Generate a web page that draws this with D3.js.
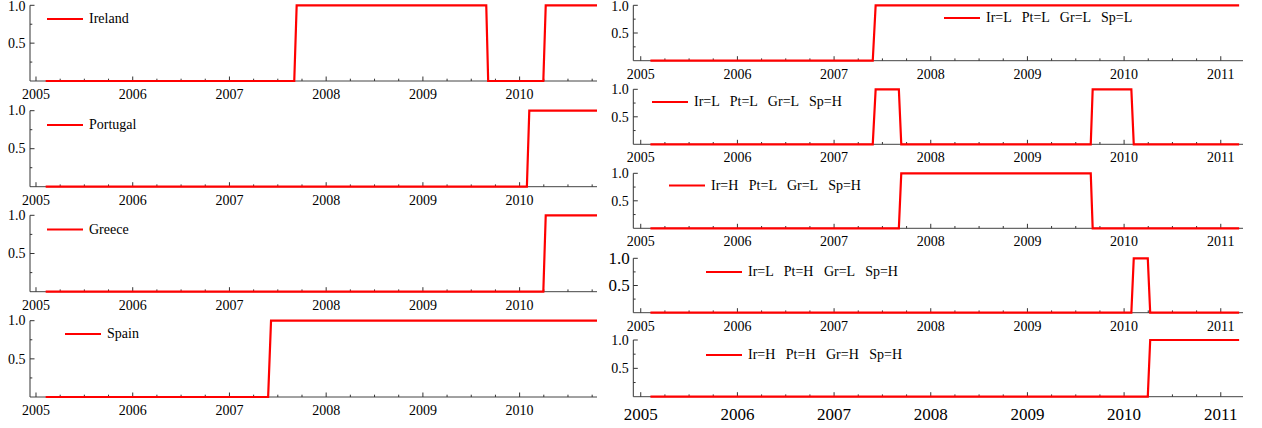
<!DOCTYPE html>
<html>
<head>
<meta charset="utf-8">
<script src="https://cdn.jsdelivr.net/npm/d3@7"></script>
<style>
  body { margin: 0; background: #fff; }
  svg { display: block; }
  .legend text { white-space: pre; }
</style>
</head>
<body>
<div id="app"></div>
<script>
// breakpoints (decimal years) shared by all regime series
const dates = [2005.1, 2007.40, 2007.43, 2007.67, 2007.695, 2009.655, 2009.675, 2010.075, 2010.10, 2010.245, 2010.27, 2011.19];

// left column: single-country indicators
const ireland  = [0, 0, 0, 0, 1, 1, 0, 0, 0, 0, 1, 1];
const portugal = [0, 0, 0, 0, 0, 0, 0, 0, 1, 1, 1, 1];
const greece   = [0, 0, 0, 0, 0, 0, 0, 0, 0, 0, 1, 1];
const spain    = [0, 0, 1, 1, 1, 1, 1, 1, 1, 1, 1, 1];

// right column: joint regimes
const rLLLL = [0, 0, 1, 1, 1, 1, 1, 1, 1, 1, 1, 1];
const rLLLH = [0, 0, 1, 1, 0, 0, 1, 1, 0, 0, 0, 0];
const rHLLH = [0, 0, 0, 0, 1, 1, 0, 0, 0, 0, 0, 0];
const rLHLH = [0, 0, 0, 0, 0, 0, 0, 0, 1, 1, 0, 0];
const rHHHH = [0, 0, 0, 0, 0, 0, 0, 0, 0, 0, 1, 1];

const leftNames = ["Ireland", "Portugal", "Greece", "Spain"];
const rightNames = [
  "Ir=L   Pt=L   Gr=L   Sp=L",
  "Ir=L   Pt=L   Gr=L   Sp=H",
  "Ir=H   Pt=L   Gr=L   Sp=H",
  "Ir=L   Pt=H   Gr=L   Sp=H",
  "Ir=H   Pt=H   Gr=H   Sp=H",
];
const yearTicks = [2005, 2006, 2007, 2008, 2009, 2010, 2011];
const yTicks = [0.5, 1.0];

const width = 1262, height = 428;
const red = "#ff0000";
const serif = "'Liberation Serif', 'Times New Roman', 'DejaVu Serif', serif";

const svg = d3.select("#app").append("svg")
  .attr("width", width).attr("height", height)
  .attr("viewBox", [0, 0, width, height])
  .attr("font-family", serif);

const defs = svg.append("defs");

// layout of each panel (pixels)
const columns = {
  left:  { x0: 30,    x1: 597,  domain: [2004.938, 2010.80] },
  right: { x0: 633.3, x1: 1243, domain: [2004.923, 2011.23] },
};

const panels = [
  { col: "left",  top: 5.3,   base: 81,    values: ireland,  name: leftNames[0], lx: 47, ly: 19 },
  { col: "left",  top: 110.7, base: 186.7, values: portugal, name: leftNames[1], lx: 47, ly: 125 },
  { col: "left",  top: 215.3, base: 291.7, values: greece,   name: leftNames[2], lx: 47, ly: 229.5 },
  { col: "left",  top: 320.7, base: 397,   values: spain,    name: leftNames[3], lx: 65, ly: 334 },
  { col: "right", top: 5.3,   base: 60.7,  values: rLLLL, name: rightNames[0], lx: 944, ly: 18 },
  { col: "right", top: 89.3,  base: 144.3, values: rLLLH, name: rightNames[1], lx: 652, ly: 102 },
  { col: "right", top: 173.3, base: 228.3, values: rHLLH, name: rightNames[2], lx: 669, ly: 185.5 },
  { col: "right", top: 258.3, base: 312.7, values: rLHLH, name: rightNames[3], lx: 706, ly: 272, ySize: 17 },
  { col: "right", top: 340,   base: 396.7, values: rHHHH, name: rightNames[4], lx: 706, ly: 355, xSize: 17 },
];

panels.forEach((p, i) => {
  const c = columns[p.col];
  const x = d3.scaleLinear().domain(c.domain).range([c.x0, c.x1]);
  const y = d3.scaleLinear().domain([0, 1]).range([p.base, p.top]);
  const g = svg.append("g");
  const xSize = p.xSize || 14, ySize = p.ySize || 14;

  // x axis: line, quarterly minor ticks, yearly major ticks pointing up
  g.append("line")
    .attr("x1", c.x0).attr("x2", c.x1)
    .attr("y1", p.base).attr("y2", p.base)
    .attr("stroke", "#444").attr("stroke-width", 1);

  const xMajor = yearTicks.filter(t => t >= c.domain[0] && t <= c.domain[1]);
  const xMinor = d3.range(2005, 2011.5, 0.25).filter(t => t % 1 !== 0 && t <= c.domain[1]);
  g.selectAll(".xmin").data(xMinor).join("line")
    .attr("x1", d => x(d)).attr("x2", d => x(d))
    .attr("y1", p.base).attr("y2", p.base - 2.3)
    .attr("stroke", "#333").attr("stroke-width", 1);
  g.selectAll(".xmaj").data(xMajor).join("line")
    .attr("x1", d => x(d)).attr("x2", d => x(d))
    .attr("y1", p.base).attr("y2", p.base - 4.5)
    .attr("stroke", "#333").attr("stroke-width", 1);
  g.selectAll(".xlab").data(xMajor).join("text")
    .attr("x", d => x(d)).attr("y", p.base + (xSize > 14 ? 23 : 18))
    .attr("text-anchor", "middle")
    .attr("font-family", serif)
    .attr("font-size", xSize)
    .text(d => d);

  // y axis
  g.append("line")
    .attr("x1", c.x0).attr("x2", c.x0)
    .attr("y1", y(0)).attr("y2", y(1))
    .attr("stroke", "#333").attr("stroke-width", 1);
  g.selectAll(".ymin").data([0.25, 0.75]).join("line")
    .attr("x1", c.x0).attr("x2", c.x0 + 2.3)
    .attr("y1", d => y(d)).attr("y2", d => y(d))
    .attr("stroke", "#333");
  g.selectAll(".ymaj").data(yTicks).join("line")
    .attr("x1", c.x0).attr("x2", c.x0 + 4.5)
    .attr("y1", d => y(d)).attr("y2", d => y(d))
    .attr("stroke", "#333");
  g.selectAll(".ylab").data(yTicks).join("text")
    .attr("x", c.x0 - (ySize > 14 ? 3.5 : 4.5))
    .attr("y", d => Math.max(y(d), 6.5)) // keep the top label inside the picture
    .attr("dy", "0.34em")
    .attr("text-anchor", "end")
    .attr("font-family", serif)
    .attr("font-size", ySize)
    .text(d => d3.format(".1f")(d));

  // series
  const clipId = "clip" + i;
  defs.append("clipPath").attr("id", clipId)
    .append("rect")
    .attr("x", c.x0).attr("y", p.top - 5)
    .attr("width", c.x1 - c.x0).attr("height", p.base - p.top + 10);

  const pts = dates.map((d, k) => [d, p.values[k]]);
  const line = d3.line().x(d => x(d[0])).y(d => y(d[1]));
  g.append("path")
    .datum(pts)
    .attr("clip-path", `url(#${clipId})`)
    .attr("fill", "none")
    .attr("stroke", red)
    .attr("stroke-width", 2.2)
    .attr("stroke-linejoin", "miter")
    .attr("d", line);

  // legend
  const lg = g.append("g").attr("class", "legend");
  lg.append("line")
    .attr("x1", p.lx).attr("x2", p.lx + 36)
    .attr("y1", p.ly).attr("y2", p.ly)
    .attr("stroke", red).attr("stroke-width", 2.2);
  lg.append("text")
    .attr("x", p.lx + 42).attr("y", p.ly)
    .attr("dy", "0.32em")
    .attr("font-family", serif)
    .attr("font-size", 14)
    .text(p.name);
});
</script>
</body>
</html>
